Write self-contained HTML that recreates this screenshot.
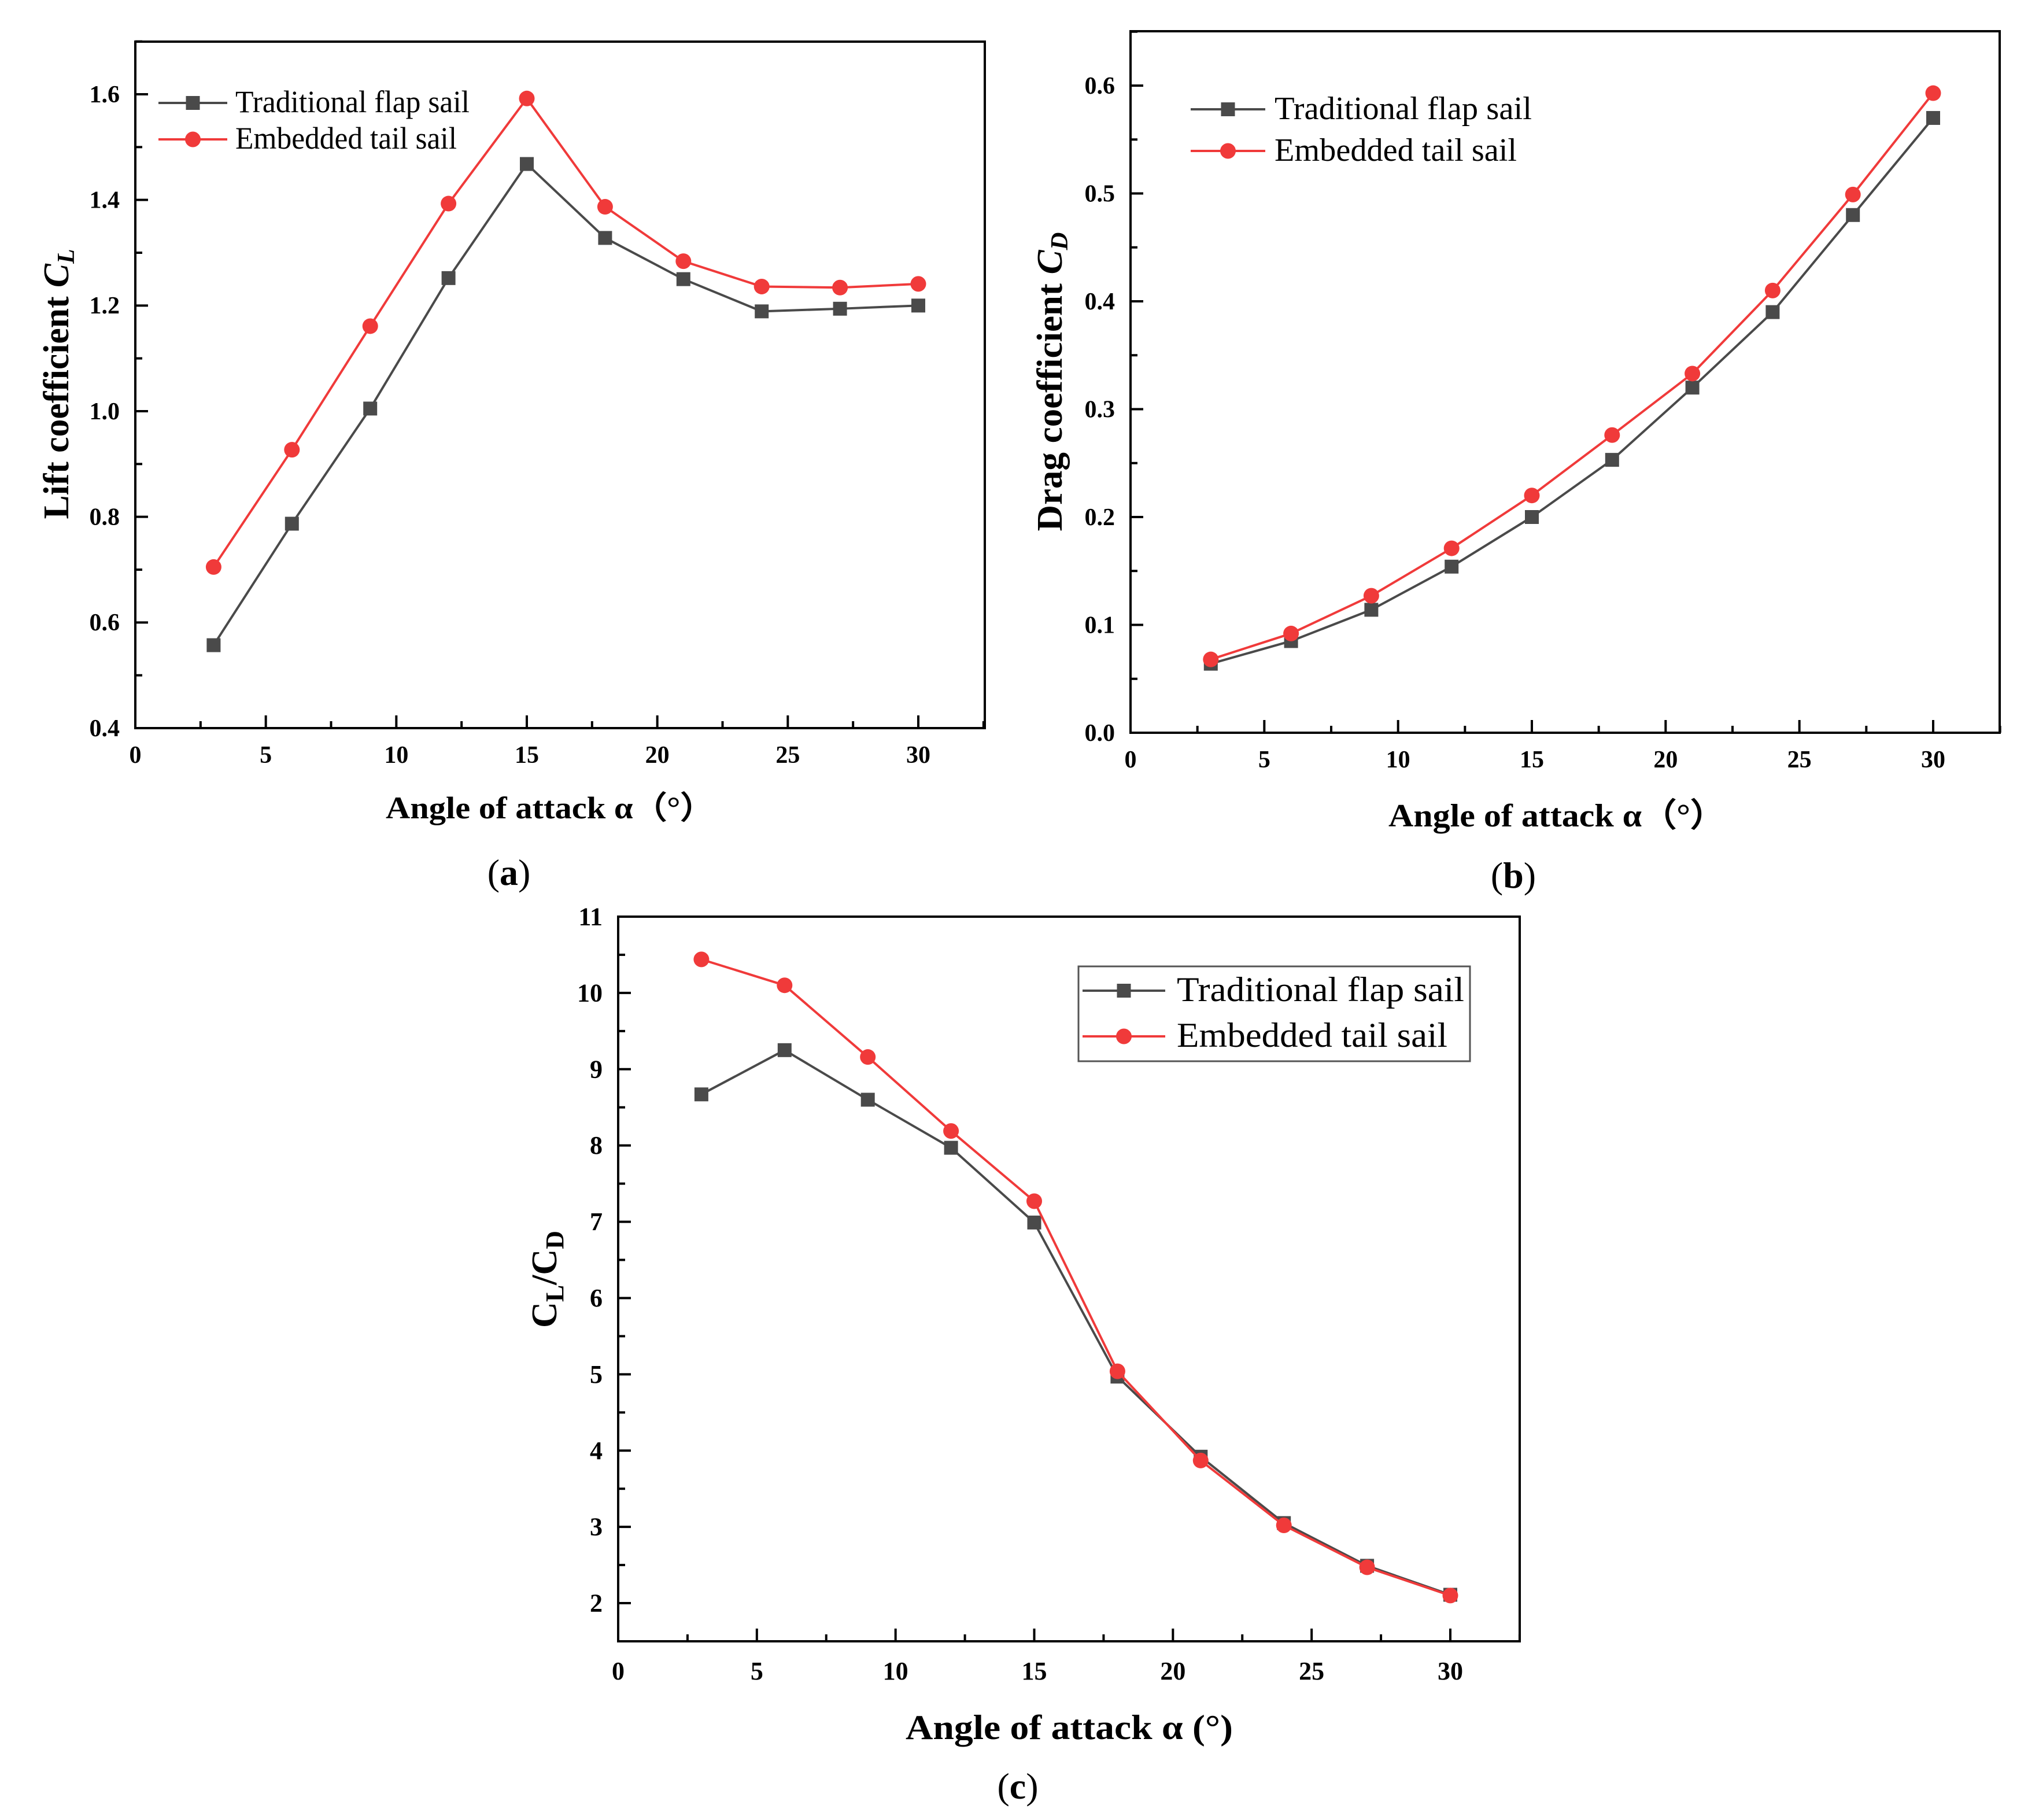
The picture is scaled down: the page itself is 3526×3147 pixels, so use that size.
<!DOCTYPE html>
<html><head><meta charset="utf-8">
<style>
html,body{margin:0;padding:0;background:#fff;}
svg{display:block;}
text{font-family:"Liberation Serif","Times New Roman",serif;fill:#000;}
</style></head>
<body>
<svg id="fig" xmlns="http://www.w3.org/2000/svg" width="3526" height="3147" viewBox="0 0 3526 3147">
<rect x="0" y="0" width="3526" height="3147" fill="#fff"/>
</svg>
<script>
const angles = [3, 6, 9, 12, 15, 18, 21, 24, 27, 30];
const liftTraditional = [0.557, 0.787, 1.005, 1.252, 1.468, 1.328, 1.250, 1.189, 1.194, 1.200];
const liftEmbedded = [0.705, 0.927, 1.161, 1.393, 1.592, 1.387, 1.284, 1.236, 1.234, 1.241];
const dragTraditional = [0.064, 0.085, 0.114, 0.154, 0.200, 0.253, 0.320, 0.390, 0.480, 0.570];
const dragEmbedded = [0.068, 0.092, 0.127, 0.171, 0.220, 0.276, 0.333, 0.410, 0.499, 0.593];
const ratioTraditional = [8.67, 9.25, 8.60, 7.97, 6.99, 4.97, 3.92, 3.05, 2.49, 2.11];
const ratioEmbedded = [10.44, 10.10, 9.16, 8.19, 7.27, 5.04, 3.87, 3.02, 2.47, 2.10];
const xTickLabels = ["0", "5", "10", "15", "20", "25", "30"];
const liftTickLabels = ["0.4", "0.6", "0.8", "1.0", "1.2", "1.4", "1.6"];
const dragTickLabels = ["0.0", "0.1", "0.2", "0.3", "0.4", "0.5", "0.6"];
const ratioTickLabels = ["2", "3", "4", "5", "6", "7", "8", "9", "10", "11"];
const seriesNames = ["Traditional flap sail", "Embedded tail sail"];

const NS = "http://www.w3.org/2000/svg";
const svg = document.getElementById("fig");
const GRAY = "#4a4a4a", RED = "#f03a3a";

function mk(tag, attrs, parent) {
  const e = document.createElementNS(NS, tag);
  for (const k in attrs) e.setAttribute(k, attrs[k]);
  (parent || svg).appendChild(e);
  return e;
}

function panel(cfg) {
  const g = mk("g", {});
  
  
  const X = v => cfg.left + (v - 0) / 30 * (cfg.x30 - cfg.left);
  const Y = v => cfg.bottom - (v - cfg.ymin) / (cfg.yref - cfg.ymin) * (cfg.bottom - cfg.yrefPx);
  const fr = mk("rect", {x: cfg.left, y: cfg.top, width: cfg.right - cfg.left, height: cfg.bottom - cfg.top, fill: "none", stroke: "#000", "stroke-width": 4}, g);
  
  
  for (let v = 0; v <= 32.5; v += 2.5) {
    const major = Math.abs(v % 5) < 1e-6;
    const t = mk("line", {x1: X(v), x2: X(v), y1: cfg.bottom, y2: cfg.bottom - (major ? 22 : 12), stroke: "#000", "stroke-width": 4}, g);
    
    
  }
  xTickLabels.forEach(s => {
    const t = mk("text", {x: X(+s), y: cfg.bottom + cfg.xlabOff, "text-anchor": "middle", "font-size": cfg.tickFs, "font-weight": "bold"}, g);
    t.textContent = s;
    
    
  });
  for (let v = cfg.ymin; v <= cfg.ymax + 1e-9; v += cfg.minor) {
    const major = Math.abs(Math.round((v - cfg.ymin) / cfg.minor) % 2) === (cfg.majorParity || 0);
    if (Y(v) < cfg.top - 1) continue;
    const t = mk("line", {x1: cfg.left, x2: cfg.left + (major ? 22 : 12), y1: Y(v), y2: Y(v), stroke: "#000", "stroke-width": 4}, g);
    
    
  }
  cfg.ylabels.forEach(s => {
    const t = mk("text", {x: cfg.left - 27, y: Y(+s) + cfg.tickFs * 0.33, "text-anchor": "end", "font-size": cfg.tickFs, "font-weight": "bold"}, g);
    t.textContent = s;
    
    
  });
  [[cfg.s1, GRAY, "square"], [cfg.s2, RED, "circle"]].forEach(([data, col, m], si) => {
    const pts = angles.map((a, i) => X(a) + "," + Y(data[i])).join(" ");
    const pl = mk("polyline", {points: pts, fill: "none", stroke: col, "stroke-width": 4, "stroke-linejoin": "round"}, g);
    
    
    angles.forEach((a, i) => {
      let e;
      if (m === "square") e = mk("rect", {x: X(a) - 12, y: Y(data[i]) - 12, width: 24, height: 24, fill: col}, g);
      else e = mk("circle", {cx: X(a), cy: Y(data[i]), r: 13.5, fill: col}, g);
      
      
    });
  });
  if (cfg.legBox) {
    const b = mk("rect", {x: cfg.legBox[0], y: cfg.legBox[1], width: cfg.legBox[2], height: cfg.legBox[3], fill: "#fff", stroke: "#555", "stroke-width": 3}, g);
    
    
  }
  [[GRAY, "square"], [RED, "circle"]].forEach(([col, m], i) => {
    const y = cfg.legY[i];
    const le = mk("g", {}, g);
    
    
    mk("line", {x1: cfg.legX1, x2: cfg.legX2, y1: y, y2: y, stroke: col, "stroke-width": 4}, le);
    const mx = (cfg.legX1 + cfg.legX2) / 2;
    if (m === "square") mk("rect", {x: mx - 12, y: y - 12, width: 24, height: 24, fill: col}, le);
    else mk("circle", {cx: mx, cy: y, r: 13.5, fill: col}, le);
    const t = mk("text", {x: cfg.legTx, y: y + cfg.legFs * 0.3, "font-size": cfg.legFs, textLength: cfg.legW[i], lengthAdjust: "spacingAndGlyphs"}, le);
    t.textContent = seriesNames[i];
  });
  const xt = mk("text", {x: cfg.xtX, y: cfg.xtY, "text-anchor": "middle", "font-size": cfg.titleFs, "font-weight": "bold", textLength: cfg.xtW, lengthAdjust: "spacingAndGlyphs"}, g);
  xt.textContent = cfg.xTitle;
  
  
  const ytAttrs = {x: 0, y: 0, "text-anchor": "middle", "font-size": cfg.ytFs, "font-weight": "bold", transform: `translate(${cfg.ytX},${cfg.ytY}) rotate(-90)`};
  if (cfg.ytW) { ytAttrs.textLength = cfg.ytW; ytAttrs.lengthAdjust = "spacingAndGlyphs"; }
  const yt = mk("text", ytAttrs, g);
  
  
  yt.innerHTML = cfg.yTitle;
  const pl = mk("text", {x: cfg.plX, y: cfg.plY, "text-anchor": "middle", "font-size": 64}, g);
  pl.innerHTML = cfg.panelLabel;
  
  
}

panel({name: "lift-chart", left: 234, right: 1703, top: 72, bottom: 1259, x30: 1588,
  ymin: 0.4, ymax: 1.7, yref: 1.6, yrefPx: 163, minor: 0.1, ylabels: liftTickLabels,
  s1: liftTraditional, s2: liftEmbedded, tickFs: 42, xlabOff: 60,
  legX1: 274, legX2: 393, legTx: 407, legY: [178, 241], legFs: 54, legW: [405, 383],
  xTitle: "Angle of attack α（°）", xtX: 951, xtY: 1415, xtW: 568, titleFs: 54,
  yTitle: 'Lift coefficient <tspan font-style="italic">C</tspan><tspan font-style="italic" font-size="42" dy="10">L</tspan>',
  ytX: 118, ytY: 664, ytFs: 62, ytW: 467, plX: 880, plY: 1530,
  panelLabel: '(<tspan font-weight="bold">a</tspan>)'});

panel({name: "drag-chart", left: 1955, right: 3458, top: 54, bottom: 1267, x30: 3343,
  ymin: 0, ymax: 0.65, yref: 0.6, yrefPx: 148, minor: 0.05, ylabels: dragTickLabels,
  s1: dragTraditional, s2: dragEmbedded, tickFs: 42, xlabOff: 60,
  legX1: 2059, legX2: 2188, legTx: 2204, legY: [189, 261], legFs: 56, legW: [445, 419],
  xTitle: "Angle of attack α（°）", xtX: 2692, xtY: 1429, xtW: 582, titleFs: 56,
  yTitle: 'Drag coefficient <tspan font-style="italic">C</tspan><tspan font-style="italic" font-size="42" dy="10">D</tspan>',
  ytX: 1836, ytY: 660, ytFs: 62, ytW: 517, plX: 2617, plY: 1535,
  panelLabel: '(<tspan font-weight="bold">b</tspan>)'});

panel({name: "lift-drag-ratio-chart", left: 1069, right: 2628, top: 1585, bottom: 2838, x30: 2508,
  ymin: 1.5, ymax: 11, yref: 11, yrefPx: 1585, minor: 0.5, majorParity: 1, ylabels: ratioTickLabels,
  s1: ratioTraditional, s2: ratioEmbedded, tickFs: 44, xlabOff: 66,
  legBox: [1865, 1671, 677, 164],
  legX1: 1872, legX2: 2015, legTx: 2035, legY: [1713, 1792], legFs: 60, legW: [497, 468],
  xTitle: "Angle of attack α (°)", xtX: 1849, xtY: 3007, xtW: 566, titleFs: 60,
  yTitle: 'C<tspan font-size="44" dy="12">L</tspan><tspan dy="-12">/C</tspan><tspan font-size="44" dy="12">D</tspan>',
  ytX: 962, ytY: 2212, ytFs: 62, plX: 1760, plY: 3110,
  panelLabel: '(<tspan font-weight="bold">c</tspan>)'});
</script>
</body></html>
